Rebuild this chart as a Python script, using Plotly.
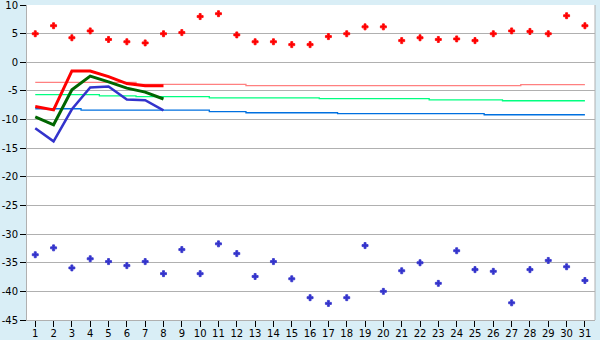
import plotly.graph_objects as go

days = list(range(1, 32))
tick_labels = [str(d) for d in days]
y_ticks = [10, 5, 0, -5, -10, -15, -20, -25, -30, -35, -40, -45]
y_tick_labels = ["10", "5", "0", "-5", "-10", "-15", "-20", "-25", "-30", "-35", "-40", "-45"]

max_points = [5.0, 6.4, 4.3, 5.5, 4.0, 3.6, 3.4, 5.0, 5.2, 8.0, 8.5, 4.8, 3.6, 3.6, 3.1, 3.1,
              4.5, 5.0, 6.2, 6.2, 3.8, 4.3, 4.0, 4.1, 3.8, 5.0, 5.5, 5.4, 5.0, 8.15, 6.4]
min_points = [-33.6, -32.4, -35.9, -34.3, -34.8, -35.5, -34.8, -36.9, -32.7, -36.9, -31.7,
              -33.4, -37.4, -34.8, -37.8, -41.1, -42.1, -41.1, -32.0, -40.0, -36.4, -35.0,
              -38.6, -32.9, -36.2, -36.5, -42.0, -36.2, -34.6, -35.7, -38.1]

line_days = [1, 2, 3, 4, 5, 6, 7, 8]
red_line = [-7.7, -8.3, -1.5, -1.5, -2.5, -3.7, -4.1, -4.1]
green_line = [-9.5, -10.9, -4.8, -2.4, -3.4, -4.5, -5.2, -6.4]
blue_line = [-11.5, -13.8, -8.2, -4.4, -4.2, -6.5, -6.6, -8.4]

pink_norm = [-3.5] * 6 + [-3.85] * 6 + [-4.05] * 15 + [-3.9] * 4
green_norm = [-5.65] * 4 + [-5.85] * 2 + [-6.0] * 4 + [-6.2] * 6 + [-6.35] * 6 + [-6.55] * 4 + [-6.7] * 5
blue_norm = [-8.1] * 3 + [-8.35] * 7 + [-8.6] * 2 + [-8.8] * 5 + [-8.95] * 8 + [-9.15] * 6

fig = go.Figure()
fig.add_trace(go.Scatter(x=days, y=pink_norm, mode="lines", line=dict(color="#ff8080", width=1.3, shape="hvh")))
fig.add_trace(go.Scatter(x=days, y=green_norm, mode="lines", line=dict(color="#00ff80", width=1.3, shape="hvh")))
fig.add_trace(go.Scatter(x=days, y=blue_norm, mode="lines", line=dict(color="#0070e0", width=1.3, shape="hvh")))
fig.add_trace(go.Scatter(x=line_days, y=blue_line, mode="lines", line=dict(color="#3333cc", width=2.5)))
fig.add_trace(go.Scatter(x=line_days, y=green_line, mode="lines", line=dict(color="#006600", width=3)))
fig.add_trace(go.Scatter(x=line_days, y=red_line, mode="lines", line=dict(color="#ff0000", width=3)))
fig.add_trace(go.Scatter(x=days, y=max_points, mode="markers",
                         marker=dict(symbol="cross", size=5, color="#ff0000",
                                     line=dict(width=0.8, color="#ff0000"))))
fig.add_trace(go.Scatter(x=days, y=min_points, mode="markers",
                         marker=dict(symbol="cross", size=5, color="#3333cc",
                                     line=dict(width=0.8, color="#3333cc"))))

fig.update_layout(
    width=600, height=340,
    margin=dict(l=27, r=5, t=5, b=20),
    paper_bgcolor="#d9eef6",
    plot_bgcolor="#ffffff",
    showlegend=False,
    font=dict(family="DejaVu Sans", size=10, color="#000000"),
)
fig.update_xaxes(
    range=[0.55, 31.55], tickvals=days, ticktext=tick_labels,
    showgrid=False, zeroline=False, automargin=False,
    showline=True, linecolor="#b0b0b0", linewidth=1, mirror=False,
    ticks="outside", ticklen=6, tickcolor="#000000", tickwidth=1,
    ticklabeloverflow="allow", ticklabelstandoff=-2,
)
fig.update_yaxes(
    range=[-45, 10.02], tickvals=y_ticks, ticktext=y_tick_labels, automargin=False,
    showgrid=True, gridcolor="#b0b0b0", gridwidth=1, zeroline=False,
    showline=True, linecolor="#b0b0b0", linewidth=1,
    ticks="outside", ticklen=6, tickcolor="#000000", tickwidth=1,
    ticklabeloverflow="allow",
)
fig.add_shape(type="line", xref="paper", yref="paper", x0=1, x1=1, y0=0, y1=1,
              line=dict(color="#b0b0b0", width=1))

fig.write_html("out.html")
